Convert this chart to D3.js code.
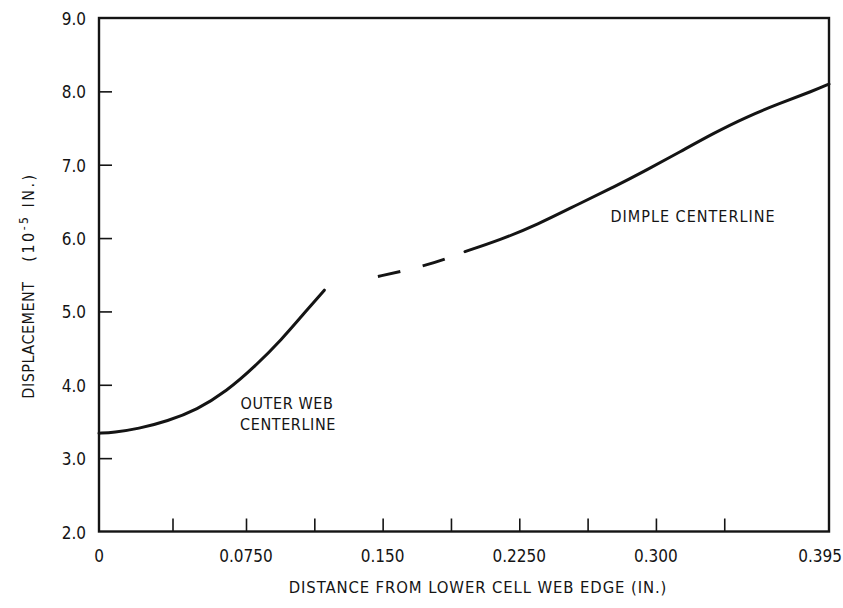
<!DOCTYPE html>
<html>
<head>
<meta charset="utf-8">
<script src="https://cdn.jsdelivr.net/npm/d3@7/dist/d3.min.js"></script>
<style>
  html, body { margin: 0; padding: 0; background: #fff; }
  svg { display: block; }
  text { font-family: "DejaVu Sans Condensed", "DejaVu Sans", sans-serif; font-stretch: condensed; fill: #141414; }
</style>
</head>
<body>
<svg id="chart" width="843" height="608"></svg>
<script>
// ---- data ----
const outerWebX = [0, 0.0075, 0.02, 0.035, 0.05, 0.065, 0.08, 0.095, 0.105, 0.118];
const outerWebY = [3.34, 3.35, 3.40, 3.505, 3.66, 3.91, 4.25, 4.63, 4.92, 5.29];

const dimpleDashX = [0.1474, 0.160, 0.173, 0.1857, 0.1952];
const dimpleDashY = [5.477, 5.545, 5.624, 5.725, 5.815];

const dimpleX = [0.1952, 0.2144, 0.2346, 0.2583, 0.2766, 0.2949, 0.3133, 0.3315, 0.3498, 0.3681, 0.3864, 0.395];
const dimpleY = [5.815, 5.974, 6.178, 6.474, 6.692, 6.928, 7.177, 7.428, 7.654, 7.837, 8.008, 8.10];

const xTickValues = [0.0375, 0.075, 0.1125, 0.15, 0.1875, 0.225, 0.2625, 0.3, 0.3375];
const xLabelValues = [0, 0.075, 0.15, 0.225, 0.3, 0.395];
const xLabelText = ["0", "0.0750", "0.150", "0.2250", "0.300", "0.395"];
const yTickValues = [3, 4, 5, 6, 7, 8];
const yLabelValues = [2, 3, 4, 5, 6, 7, 8, 9];
const yLabelText = ["2.0", "3.0", "4.0", "5.0", "6.0", "7.0", "8.0", "9.0"];

// ---- layout ----
const pLeft = 99, pRight = 829, pTop = 18, pBottom = 531.5;
const svg = d3.select("#chart");

// the printed axis is not uniformly spaced; a polylinear scale follows it
const x = d3.scaleLinear().domain([0, 0.075, 0.395]).range([pLeft, 246, pRight]);
const y = d3.scaleLinear().domain([2, 9]).range([pBottom, pTop]);

const ink = "#141414";

// ticks (inward)
const xTicks = svg.append("g").attr("transform", `translate(0,${pBottom})`)
  .call(d3.axisBottom(x).tickValues(xTickValues).tickSize(-13).tickFormat(""));
xTicks.select(".domain").remove();
xTicks.selectAll("line").attr("stroke", ink).attr("stroke-width", 1.6);

const yTicks = svg.append("g").attr("transform", `translate(${pLeft},0)`)
  .call(d3.axisLeft(y).tickValues(yTickValues).tickSize(-13).tickFormat(""));
yTicks.select(".domain").remove();
yTicks.selectAll("line").attr("stroke", ink).attr("stroke-width", 1.6);

// frame
svg.append("rect")
  .attr("x", pLeft).attr("y", pTop)
  .attr("width", pRight - pLeft).attr("height", pBottom - pTop)
  .attr("fill", "none").attr("stroke", ink).attr("stroke-width", 2.4);

// tick labels
svg.append("g").selectAll("text").data(xLabelValues).join("text")
  .attr("x", (d, i) => i === xLabelValues.length - 1 ? 842 : x(d))
  .attr("y", 562)
  .attr("text-anchor", (d, i) => i === xLabelValues.length - 1 ? "end" : "middle")
  .style("font-size", "17px")
  .text((d, i) => xLabelText[i]);

svg.append("g").selectAll("text").data(yLabelValues).join("text")
  .attr("x", 86).attr("y", d => y(d) + 7)
  .attr("text-anchor", "end")
  .style("font-size", "17px")
  .text((d, i) => yLabelText[i]);

// axis titles
svg.append("text")
  .attr("x", 478).attr("y", 593)
  .attr("text-anchor", "middle")
  .style("font-size", "16.5px")
  .style("letter-spacing", "0.9px")
  .text("DISTANCE FROM LOWER CELL WEB EDGE (IN.)");

svg.append("text")
  .attr("transform", "translate(34,340) rotate(-90)")
  .attr("text-anchor", "middle")
  .style("font-size", "16px")
  .style("letter-spacing", "0.5px")
  .text("DISPLACEMENT");

const yt = svg.append("text")
  .attr("transform", "translate(34,217) rotate(-90)")
  .attr("text-anchor", "middle")
  .style("font-size", "16px")
  .style("letter-spacing", "2.5px");
yt.append("tspan").text("(10");
yt.append("tspan").attr("dy", -6).style("font-size", "12px").text("-5");
yt.append("tspan").attr("dy", 6).text(" IN.)");

// curves
const line = d3.line().x(d => x(d[0])).y(d => y(d[1])).curve(d3.curveBasis);
const zip = (a, b) => a.map((v, i) => [v, b[i]]);

svg.append("path").datum(zip(outerWebX, outerWebY))
  .attr("d", line).attr("fill", "none").attr("stroke", ink)
  .attr("stroke-width", 3).attr("stroke-linecap", "round");

svg.append("path").datum(zip(dimpleDashX, dimpleDashY))
  .attr("d", line).attr("fill", "none").attr("stroke", ink)
  .attr("stroke-width", 3).attr("stroke-dasharray", "23,23");

svg.append("path").datum(zip(dimpleX, dimpleY))
  .attr("d", line).attr("fill", "none").attr("stroke", ink)
  .attr("stroke-width", 3).attr("stroke-linecap", "round");

// annotations
svg.append("text").attr("x", 287).attr("y", 409).attr("text-anchor", "middle")
  .style("font-size", "16px").style("letter-spacing", "0.6px").text("OUTER WEB");
svg.append("text").attr("x", 288).attr("y", 430).attr("text-anchor", "middle")
  .style("font-size", "16px").style("letter-spacing", "0.6px").text("CENTERLINE");
svg.append("text").attr("x", 693).attr("y", 222).attr("text-anchor", "middle")
  .style("font-size", "16px").style("letter-spacing", "1px").text("DIMPLE CENTERLINE");
</script>
</body>
</html>
